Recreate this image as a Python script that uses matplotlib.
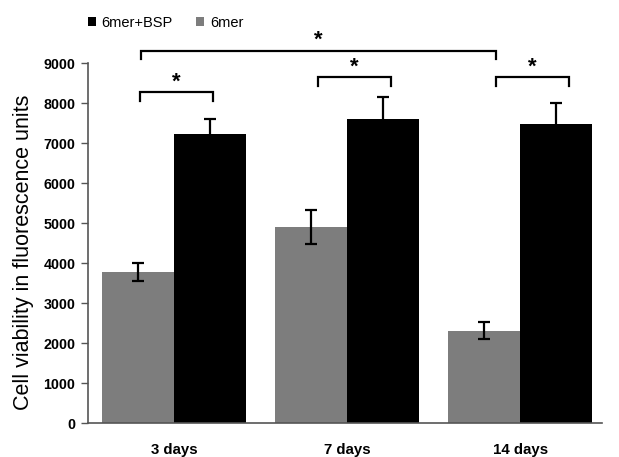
import numpy as np
import matplotlib
matplotlib.use("Agg")
import matplotlib.pyplot as plt
from matplotlib.patches import Patch

plt.rcParams['font.family'] = ['Liberation Sans', 'DejaVu Sans']

days = ["3 days", "7 days", "14 days"]
mer6 = [3780, 4900, 2310]
mer6_err = [225, 430, 215]
mer6_bsp = [7220, 7610, 7470]
mer6_bsp_err = [380, 550, 540]

gray = '#7d7d7d'
x = np.arange(len(days))
w = 0.416

fig = plt.figure(figsize=(6.19, 4.57), dpi=100)
ax = fig.add_axes([0.142, 0.074, 0.831, 0.788])

ax.bar(x - w / 2, mer6, w, color=gray, zorder=2)
ax.bar(x + w / 2, mer6_bsp, w, color='black', zorder=2)
ax.errorbar(x - w / 2, mer6, yerr=mer6_err, fmt='none', ecolor='black',
            elinewidth=1.6, capsize=4.3, capthick=1.6, zorder=3)
# lower half sits inside the black bar, so draw it underneath
ax.errorbar(x + w / 2, mer6_bsp, yerr=mer6_bsp_err, fmt='none',
            ecolor='black', elinewidth=1.6, capsize=4.3, capthick=1.6, zorder=1)

ax.set_xlim(-0.497, 2.474)
ax.set_ylim(0, 9000)
ax.set_yticks(np.arange(0, 9001, 1000))
ax.set_xticks(x)
ax.set_xticklabels(days, fontweight='bold', fontsize=10.8)
ax.tick_params(axis='x', length=0, pad=14)
ax.tick_params(axis='y', length=5, width=1, color='#555555', labelsize=10.3, pad=4)
for lab in ax.get_yticklabels():
    lab.set_fontweight('bold')
for s in ['top', 'right']:
    ax.spines[s].set_visible(False)
for s in ['left', 'bottom']:
    ax.spines[s].set_color('#555555')
    ax.spines[s].set_linewidth(1.2)
ax.set_ylabel("Cell viability in fluorescence units", fontsize=15.5)
ax.yaxis.set_label_coords(-0.105, 0.475)


def bracket(x0, x1, y, leg, star_y):
    ax.plot([x0, x0, x1, x1], [y - leg, y, y, y - leg], color='black', lw=1.6,
            clip_on=False, solid_joinstyle='miter')
    ax.text((x0 + x1) / 2, star_y, '*', ha='center', va='center',
            fontsize=16, fontweight='bold', clip_on=False)


bracket(-0.197, 0.224, 8275, 235, 8530)
bracket(1 - 0.17, 1 + 0.254, 8640, 225, 8900)
bracket(2 - 0.14, 2 + 0.283, 8640, 225, 8900)
bracket(-0.19, 2 - 0.14, 9310, 200, 9560)

handles = [Patch(facecolor='black'), Patch(facecolor=gray)]
fig.legend(handles, ["6mer+BSP", "6mer"], loc='center left',
           bbox_to_anchor=(0.142, 0.95), ncol=2, frameon=False, fontsize=10.5,
           handlelength=0.55, handleheight=0.55, handletextpad=0.39,
           columnspacing=1.6, borderaxespad=0, borderpad=0)

fig.savefig("out.png", dpi=100)
